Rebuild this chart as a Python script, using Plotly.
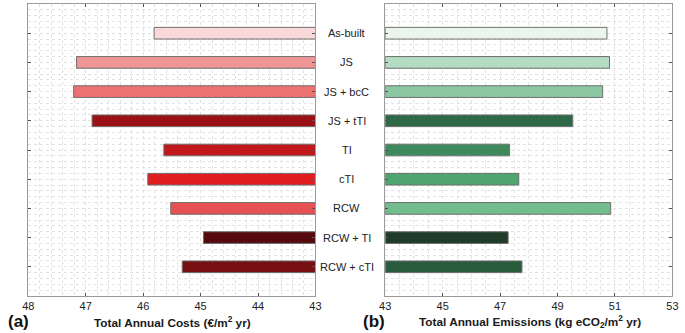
import plotly.graph_objects as go

categories = ["As-built", "JS", "JS + bcC", "JS + tTI", "TI", "cTI", "RCW", "RCW + TI", "RCW + cTI"]
annual_costs = [45.81, 47.16, 47.21, 46.89, 45.64, 45.92, 45.52, 44.95, 45.32]
annual_emissions = [50.72, 50.81, 50.57, 49.53, 47.33, 47.65, 50.85, 47.28, 47.76]
cost_base = 43
emis_base = 43

cost_colors = ["#f9d8da", "#f09596", "#ee7172", "#9a1216", "#c0181c", "#e01e22", "#e85153", "#560a0d", "#781013"]
emis_colors = ["#eaf5ee", "#b4dcc3", "#8bc7a3", "#2e6a47", "#3e8a5c", "#4fa56f", "#72bc8d", "#1f3b29", "#2a5a3c"]

pos = list(range(len(categories)))
W, H = 685, 333

fig = go.Figure()
fig.add_trace(go.Bar(
    y=pos, x=[v - cost_base for v in annual_costs], base=cost_base, orientation="h",
    width=0.4, marker=dict(color=cost_colors, line=dict(color="#707070", width=1)),
    xaxis="x", yaxis="y", showlegend=False, hoverinfo="skip"))
fig.add_trace(go.Bar(
    y=pos, x=[v - emis_base for v in annual_emissions], base=emis_base, orientation="h",
    width=0.4, marker=dict(color=emis_colors, line=dict(color="#707070", width=1)),
    xaxis="x2", yaxis="y2", showlegend=False, hoverinfo="skip"))

grid = "#e2e2e2"
axcommon = dict(showline=True, mirror="ticks", linecolor="#9a9a9a", linewidth=1,
                ticks="inside", ticklen=3, tickcolor="#555", zeroline=False,
                showgrid=True, gridcolor=grid, griddash="dot", gridwidth=1,
                tickfont=dict(family="Liberation Sans, Arial", size=11, color="#222"))

ydom = [1 - 296 / H, 1 - 4 / H]
fig.update_layout(
    width=W, height=H, margin=dict(l=0, r=0, t=0, b=0), autosize=False,
    plot_bgcolor="white", paper_bgcolor="white", bargap=0.5,
    xaxis=dict(domain=[22.7 / W, 315 / W], range=[48, 43], dtick=1, tick0=43,
               minor=dict(dtick=0.2, showgrid=True, gridcolor=grid, griddash="dot", ticks=""),
               anchor="y", **axcommon),
    yaxis=dict(domain=ydom, range=[9, -1], tickvals=pos, showticklabels=False,
               minor=dict(dtick=0.2, tick0=0, showgrid=True, gridcolor=grid, griddash="dot", ticks=""),
               anchor="x", **axcommon),
    xaxis2=dict(domain=[386 / W, 678.3 / W], range=[43, 53], dtick=2, tick0=43,
                minor=dict(dtick=0.5, showgrid=True, gridcolor=grid, griddash="dot", ticks=""),
                anchor="y2", **axcommon),
    yaxis2=dict(domain=ydom, range=[9, -1], tickvals=pos, showticklabels=False,
                minor=dict(dtick=0.2, tick0=0, showgrid=True, gridcolor=grid, griddash="dot", ticks=""),
                anchor="x2", **axcommon),
)

font = "Liberation Sans, Arial"
for i, c in enumerate(categories):
    fig.add_annotation(text=c, x=347 / W, xref="paper", y=i, yref="y", showarrow=False,
                       xanchor="center", yanchor="middle",
                       font=dict(family=font, size=11, color="#222"))

fig.add_annotation(text="<b>Total Annual Costs (€/m<sup>2</sup> yr)</b>", x=169 / W, y=1 - 322 / H,
                   xref="paper", yref="paper", showarrow=False, xanchor="center", yanchor="middle",
                   font=dict(family=font, size=11.8, color="#1a1a1a"))
fig.add_annotation(text="<b>Total Annual Emissions (kg eCO<sub>2</sub>/m<sup>2</sup> yr)</b>", x=533 / W, y=1 - 322 / H,
                   xref="paper", yref="paper", showarrow=False, xanchor="center", yanchor="middle",
                   font=dict(family=font, size=11.8, color="#1a1a1a"))
fig.add_annotation(text="<b>(a)</b>", x=0, y=1 - 321 / H, xref="paper", yref="paper", showarrow=False,
                   xanchor="left", yanchor="middle", font=dict(family=font, size=17, color="#111"))
fig.add_annotation(text="<b>(b)</b>", x=361 / W, y=1 - 321 / H, xref="paper", yref="paper", showarrow=False,
                   xanchor="left", yanchor="middle", font=dict(family=font, size=17, color="#111"))

fig.write_html("out.html", config={"responsive": False, "displayModeBar": False},
               post_script="document.body.style.margin='0';document.body.style.overflow='hidden';")
